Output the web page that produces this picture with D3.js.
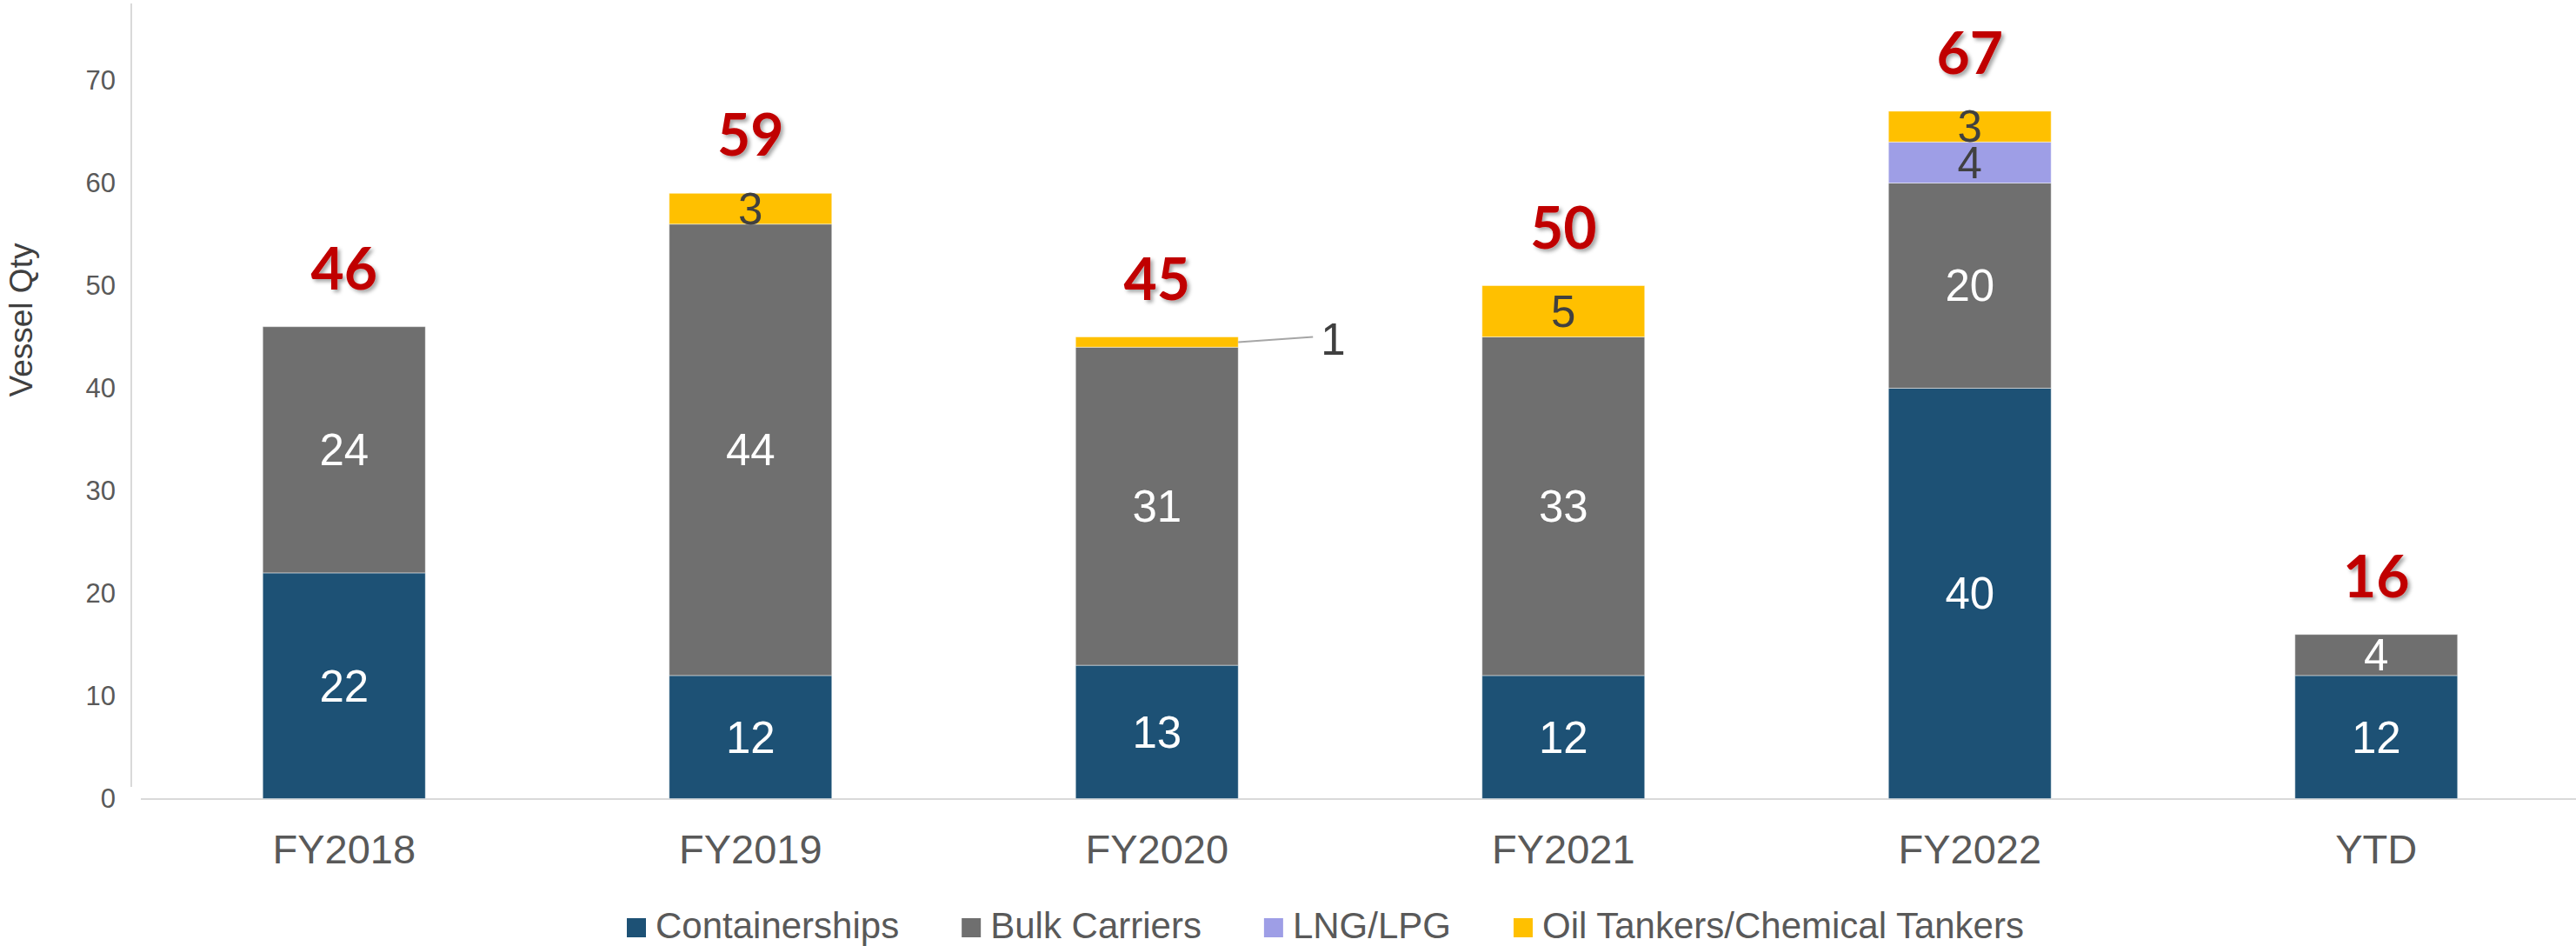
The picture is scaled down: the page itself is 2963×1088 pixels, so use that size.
<!DOCTYPE html>
<html>
<head>
<meta charset="utf-8">
<style>
html, body {
  margin: 0; padding: 0;
  background: #fff;
}
svg {
  display: block;
  font-family: "Liberation Sans", Arial, sans-serif;
}
</style>
<script src="https://cdn.jsdelivr.net/npm/d3@7"></script>
</head>
<body>
<script>
var categories = ["FY2018", "FY2019", "FY2020", "FY2021", "FY2022", "YTD"];
var seriesNames = ["Containerships", "Bulk Carriers", "LNG/LPG", "Oil Tankers/Chemical Tankers"];
var containerships = [22, 12, 13, 12, 40, 12];
var bulkCarriers = [24, 44, 31, 33, 20, 4];
var lngLpg = [0, 0, 0, 0, 4, 0];
var oilTankers = [0, 3, 1, 5, 3, 0];
var yTicks = [0, 10, 20, 30, 40, 50, 60, 70];

var colors = ["#1d5175", "#6f6f6f", "#9e9ee6", "#ffc000"];
var labelColors = ["#fff", "#fff", "#404040", "#404040"];

var w = 2963, h = 1088;

// build rows for d3.stack
var rows = categories.map(function(c, i) {
  return {
    cat: c,
    "Containerships": containerships[i],
    "Bulk Carriers": bulkCarriers[i],
    "LNG/LPG": lngLpg[i],
    "Oil Tankers/Chemical Tankers": oilTankers[i]
  };
});
var stacked = d3.stack().keys(seriesNames)(rows);

var x = d3.scaleBand()
  .domain(categories)
  .range([162, 2967])
  .paddingInner(0.6)
  .paddingOuter(0.3);

var y = d3.scaleLinear()
  .domain([0, 77.5])
  .range([918.5, 4]);

var svg = d3.select("body").append("svg")
  .attr("width", w)
  .attr("height", h);

var defs = svg.append("defs");
var f = defs.append("filter").attr("id", "shadow")
  .attr("x", "-20%").attr("y", "-20%").attr("width", "150%").attr("height", "150%");
f.append("feDropShadow")
  .attr("dx", 3).attr("dy", 3).attr("stdDeviation", 2)
  .attr("flood-color", "#000").attr("flood-opacity", 0.35);

// axis lines
svg.append("line")
  .attr("x1", 151).attr("x2", 151)
  .attr("y1", 4).attr("y2", 905)
  .attr("stroke", "#d9d9d9").attr("stroke-width", 2);

svg.append("line")
  .attr("x1", 162).attr("x2", w)
  .attr("y1", y(0) + 0.5).attr("y2", y(0) + 0.5)
  .attr("stroke", "#d9d9d9").attr("stroke-width", 2);

// y tick labels
svg.append("g").selectAll("text")
  .data(yTicks)
  .enter().append("text")
    .attr("x", 133)
    .attr("y", function(d) { return y(d); })
    .attr("dy", "0.35em")
    .attr("text-anchor", "end")
    .attr("font-size", 31)
    .attr("fill", "#595959")
    .text(function(d) { return d; });

// y title
svg.append("text")
  .attr("transform", "translate(37,368) rotate(-90)")
  .attr("text-anchor", "middle")
  .attr("font-size", 37)
  .attr("fill", "#404040")
  .text("Vessel Qty");

// category labels
svg.append("g").selectAll("text")
  .data(categories)
  .enter().append("text")
    .attr("x", function(d) { return x(d) + x.bandwidth() / 2; })
    .attr("y", 993)
    .attr("text-anchor", "middle")
    .attr("font-size", 47)
    .attr("fill", "#595959")
    .text(function(d) { return d; });

// bars
var layers = svg.append("g").selectAll("g")
  .data(stacked)
  .enter().append("g")
    .attr("fill", function(d, i) { return colors[i]; });

layers.selectAll("rect")
  .data(function(d) { return d.filter(function(s) { return s[1] - s[0] > 0; }); })
  .enter().append("rect")
    .attr("x", function(d) { return x(d.data.cat); })
    .attr("y", function(d) { return y(d[1]); })
    .attr("width", x.bandwidth())
    .attr("height", function(d) { return y(d[0]) - y(d[1]); })
    .attr("stroke", "rgba(255,255,255,0.45)")
    .attr("stroke-width", 1);

// segment labels
stacked.forEach(function(layer, li) {
  layer.forEach(function(s) {
    var v = s[1] - s[0];
    if (v <= 0) return;
    var cx = x(s.data.cat) + x.bandwidth() / 2;
    var cy = (y(s[0]) + y(s[1])) / 2;
    if (v < 2 && li === 3) {
      // small slice: callout with leader line
      var rx = x(s.data.cat) + x.bandwidth();
      svg.append("line")
        .attr("x1", rx).attr("y1", cy)
        .attr("x2", rx + 86).attr("y2", cy - 6)
        .attr("stroke", "#a6a6a6").attr("stroke-width", 2);
      svg.append("text")
        .attr("x", rx + 95)
        .attr("y", cy - 3)
        .attr("dy", "0.35em")
        .attr("font-size", 51)
        .attr("fill", "#404040")
        .text(v);
      return;
    }
    svg.append("text")
      .attr("x", cx)
      .attr("y", cy)
      .attr("dy", "0.35em")
      .attr("text-anchor", "middle")
      .attr("font-size", 51)
      .attr("fill", labelColors[li])
      .text(v);
  });
});

// totals above each bar
var topLayer = stacked[stacked.length - 1];
svg.append("g").selectAll("text")
  .data(topLayer)
  .enter().append("text")
    .attr("x", function(d) { return x(d.data.cat) + x.bandwidth() / 2; })
    .attr("y", function(d) { return y(d[1]) - 43; })
    .attr("text-anchor", "middle")
    .attr("font-family", "Lato, 'Open Sans', sans-serif")
    .attr("font-weight", 700)
    .attr("font-size", 66)
    .attr("fill", "#c00000")
    .attr("filter", "url(#shadow)")
    .text(function(d) { return d[1]; });

// legend
var legend = svg.append("g");
var lx = 721;
seriesNames.forEach(function(name, i) {
  legend.append("rect")
    .attr("x", lx).attr("y", 1056)
    .attr("width", 22).attr("height", 22)
    .attr("fill", colors[i]);
  var t = legend.append("text")
    .attr("x", lx + 33)
    .attr("y", 1079)
    .attr("font-size", 42)
    .attr("fill", "#595959")
    .text(name);
  lx += 33 + t.node().getComputedTextLength() + 72;
});
</script>
</body>
</html>
